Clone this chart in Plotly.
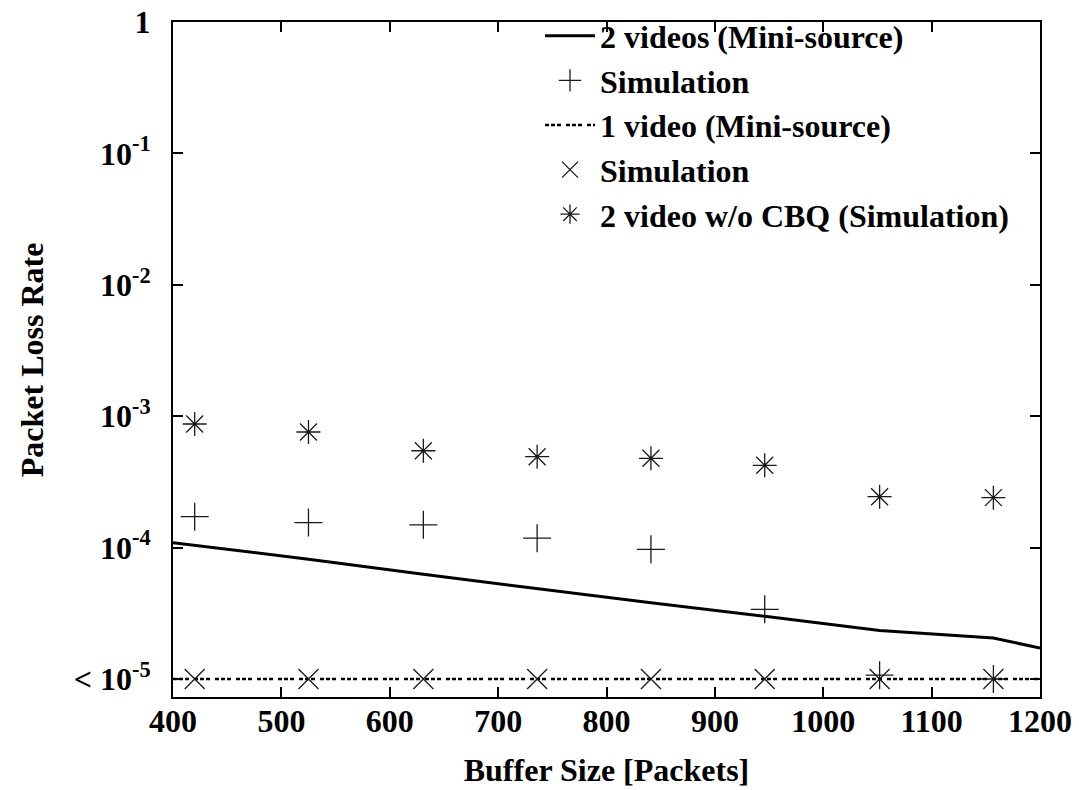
import plotly.graph_objects as go

# ---- data ----
buffer_sim = [420, 525, 631, 736, 841, 946, 1052, 1157]
two_video_sim = [1.72e-4, 1.55e-4, 1.49e-4, 1.18e-4, 9.7e-5, 3.39e-5, 1.07e-5, 1.0e-5]
one_video_sim = [1e-5, 1e-5, 1e-5, 1e-5, 1e-5, 1e-5, 1e-5, 1e-5]
no_cbq_sim = [8.72e-4, 7.58e-4, 5.46e-4, 4.92e-4, 4.78e-4, 4.23e-4, 2.44e-4, 2.40e-4]

buffer_model = [400, 525, 631, 736, 841, 946, 1052, 1157, 1200]
two_video_model = [1.09e-4, 8.15e-5, 6.26e-5, 4.87e-5, 3.8e-5, 3.0e-5, 2.34e-5, 2.05e-5, 1.72e-5]

buffer_one_model = [400, 1200]
one_video_model = [1e-5, 1e-5]

x_ticks = [400, 500, 600, 700, 800, 900, 1000, 1100, 1200]
y_tickvals = [1, 1e-1, 1e-2, 1e-3, 1e-4, 1e-5]
y_ticktext = ["1", "10<sup>-1</sup>", "10<sup>-2</sup>", "10<sup>-3</sup>",
              "10<sup>-4</sup>", "< 10<sup>-5</sup>"]

FONT = dict(family="Liberation Serif", size=32, color="black", weight="bold")
mk_color = "#1a1a1a"

fig = go.Figure()
fig.add_trace(go.Scatter(x=buffer_model, y=two_video_model, mode="lines",
                         name="2 videos (Mini-source)",
                         line=dict(color="black", width=3)))
fig.add_trace(go.Scatter(x=buffer_sim, y=two_video_sim, mode="markers",
                         name="Simulation",
                         marker=dict(symbol="cross-thin-open", size=20, color=mk_color,
                                     line=dict(color=mk_color, width=1.3))))
fig.add_trace(go.Scatter(x=buffer_one_model, y=one_video_model, mode="lines",
                         name="1 video (Mini-source)",
                         line=dict(color="black", width=2.5,
                                   dash="4px,2px,4px,2px,4px,5px")))
fig.add_trace(go.Scatter(x=buffer_sim, y=one_video_sim, mode="markers",
                         name="Simulation",
                         marker=dict(symbol="x-thin-open", size=20, color=mk_color,
                                     line=dict(color=mk_color, width=1.3))))
fig.add_trace(go.Scatter(x=buffer_sim, y=no_cbq_sim, mode="markers",
                         name="2 video w/o CBQ (Simulation)",
                         marker=dict(symbol="asterisk-open", size=20, color=mk_color,
                                     line=dict(color=mk_color, width=1.3))))

axis_common = dict(showgrid=False, zeroline=False, showline=True, linecolor="black",
                   linewidth=2, mirror="ticks", ticks="inside", ticklen=10,
                   tickwidth=2, tickcolor="black", tickfont=FONT)

fig.update_layout(
    width=1079, height=790,
    margin=dict(l=173, r=39, t=22, b=93, autoexpand=False),
    plot_bgcolor="white", paper_bgcolor="white",
    font=FONT,
    xaxis=dict(range=[400, 1200], tickvals=x_ticks, ticklabelstandoff=-5,
               title=dict(text="Buffer Size [Packets]", font=FONT, standoff=20),
               **axis_common),
    yaxis=dict(type="log", range=[-5.137, 0], tickvals=y_tickvals,
               ticktext=y_ticktext, ticklabelstandoff=14,
               **axis_common),
    legend=dict(x=0.97, y=1.02, xanchor="right", yanchor="top",
                bgcolor="rgba(0,0,0,0)", font=FONT, tracegroupgap=0,
                itemwidth=50),
    annotations=[dict(text="Packet Loss Rate", textangle=-90, xref="paper", yref="paper",
                      x=-0.163, y=0.5, xanchor="center", yanchor="middle",
                      showarrow=False, font=FONT)],
)

fig.write_html("out.html")
